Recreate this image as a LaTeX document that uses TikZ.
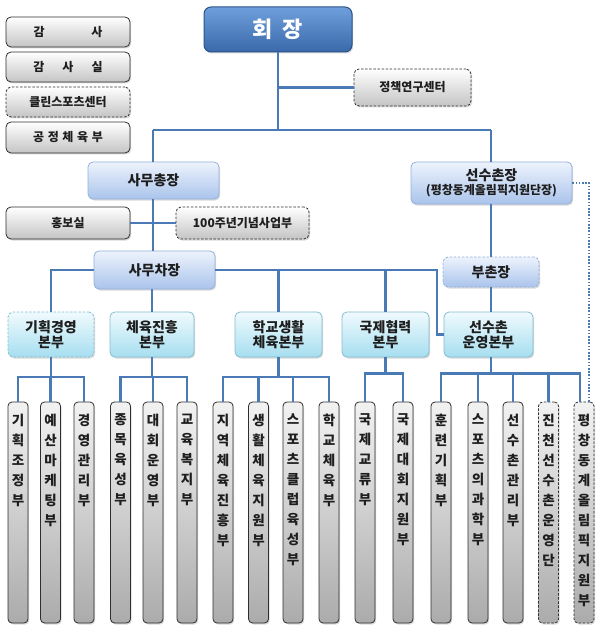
\documentclass[tikz,border=0pt]{standalone}
\usepackage{fontspec}
\setmainfont{Noto Sans CJK KR}
\usetikzlibrary{shadows}
\definecolor{linec}{HTML}{4A7AB5}
\definecolor{txt}{HTML}{1E1E1E}
\definecolor{hoetop}{HTML}{6F9FDB}
\definecolor{hoebot}{HTML}{3A69AB}
\definecolor{hoeb}{HTML}{2B5287}
\definecolor{lbtop}{HTML}{EDF3FC}
\definecolor{lbbot}{HTML}{AAC4EC}
\definecolor{lbb}{HTML}{93B0DC}
\definecolor{cytop}{HTML}{F0FAFD}
\definecolor{cybot}{HTML}{A6DEF0}
\definecolor{cyb}{HTML}{86BCD0}
\definecolor{grtop}{HTML}{FFFFFF}
\definecolor{grbot}{HTML}{C4C4C4}
\definecolor{grb}{HTML}{2E2E2E}
\definecolor{coltop}{HTML}{F2F2F2}
\definecolor{colbot}{HTML}{ABABAB}
\newcommand\coltext[1]{\parbox[c][197pt][t]{18pt}{\centering\fontsize{13.5}{20}\selectfont #1}}
\begin{document}
\begin{tikzpicture}[x=1pt,y=-1pt,
  base/.style={rounded corners=5pt, inner sep=0pt, font=\bfseries, text=txt, align=center,
    drop shadow={opacity=0.3,shadow xshift=1.2pt,shadow yshift=-1.5pt}},
  dashbox/.style={dash pattern=on 2.5pt off 1.6pt},
  graybox/.style={base, draw=grb, line width=0.8pt, top color=grtop, bottom color=grbot,
    font=\bfseries\fontsize{12}{14}\selectfont},
  hoebox/.style={base, rounded corners=7pt, draw=hoeb, line width=1pt, top color=hoetop, bottom color=hoebot,
    text=white, font=\bfseries\fontsize{22}{24}\selectfont},
  lbbox/.style={base, draw=lbb, line width=0.8pt, top color=lbtop, bottom color=lbbot,
    font=\bfseries\fontsize{14}{15}\selectfont},
  cybox/.style={base, draw=cyb, line width=0.8pt, top color=cytop, bottom color=cybot,
    font=\bfseries\fontsize{14}{15}\selectfont},
  colbox/.style={base, rounded corners=4pt, draw=grb, line width=0.8pt, top color=coltop, bottom color=colbot,
    minimum width=20pt, minimum height=221pt},
  conn/.style={draw=linec, line width=2.6pt},
  dotconn/.style={draw=linec, line width=2pt, dash pattern=on 1.6pt off 1.6pt}
]
\useasboundingbox (0,0) rectangle (600,631);

% connectors first (beneath boxes)
\coordinate (j1) at (278,130);
\coordinate (jL) at (153,130);
\coordinate (jR) at (491,130);
\coordinate (bend) at (437,270);
\coordinate (busA) at (0,377);
\coordinate (busB) at (0,373.5);
\coordinate (pcdot) at (589,402);

% top-left boxes
\node[graybox, minimum width=124pt, minimum height=30pt] (gamsa) at (68,32) {감\hspace{3.9em}사};
\node[graybox, minimum width=124pt, minimum height=30pt] (gamsasil) at (68,67) {감\hspace{1.5em}사\hspace{1.5em}실};
\node[graybox, dashbox, minimum width=124pt, minimum height=30pt] (clean) at (68,102) {클린스포츠센터};
\node[graybox, minimum width=124pt, minimum height=31pt] (gongjeong) at (68,137.5) {공\hspace{0.3em}정\hspace{0.3em}체\hspace{0.3em}육\hspace{0.3em}부};

% main nodes
\node[hoebox, minimum width=148pt, minimum height=45pt] (hoe) at (278,29.5) {회\hspace{0.45em}장};
\node[graybox, dashbox, minimum width=117pt, minimum height=37pt] (jeong) at (412.5,87.5) {정책연구센터};
\node[lbbox, minimum width=131pt, minimum height=37pt] (samu) at (153.5,180.5) {사무총장};
\node[graybox, minimum width=124pt, minimum height=32pt] (hong) at (68,223) {홍보실};
\node[graybox, dashbox, minimum width=133pt, minimum height=32pt] (baek) at (242.5,223) {100주년기념사업부};
\node[lbbox, minimum width=121pt, minimum height=38pt] (cha) at (154.5,270) {사무차장};
\node[lbbox, minimum width=161pt, minimum height=42pt] (seonsu) at (491.5,183)
  {선수촌장\\[-1pt]{\fontsize{12}{13}\selectfont(평창동계올림픽지원단장)}};
\node[lbbox, dashbox, minimum width=96pt, minimum height=30pt] (buchon) at (491,272) {부촌장};

\node[cybox, dashbox, minimum width=86pt, minimum height=45pt] (gi) at (51,334.5) {기획경영\\본부};
\node[cybox, minimum width=84pt, minimum height=45pt] (che) at (152,334.5) {체육진흥\\본부};
\node[cybox, minimum width=87pt, minimum height=45pt] (hak) at (278.5,334.5) {학교생활\\체육본부};
\node[cybox, minimum width=87pt, minimum height=45pt] (guk) at (385.5,334.5) {국제협력\\본부};
\node[cybox, minimum width=89pt, minimum height=45pt] (un) at (488.5,334.5) {선수촌\\운영본부};

% columns
\node[colbox] (c1) at (18,512.5) {\coltext{기\\획\\조\\정\\부}};
\node[colbox] (c2) at (50.5,512.5) {\coltext{예\\산\\마\\케\\팅\\부}};
\node[colbox] (c3) at (84,512.5) {\coltext{경\\영\\관\\리\\부}};
\node[colbox] (c4) at (120.5,512.5) {\coltext{종\\목\\육\\성\\부}};
\node[colbox] (c5) at (153,512.5) {\coltext{대\\회\\운\\영\\부}};
\node[colbox] (c6) at (187,512.5) {\coltext{교\\육\\복\\지\\부}};
\node[colbox] (c7) at (223,512.5) {\coltext{지\\역\\체\\육\\진\\흥\\부}};
\node[colbox] (c8) at (258.5,512.5) {\coltext{생\\활\\체\\육\\지\\원\\부}};
\node[colbox] (c9) at (293,512.5) {\coltext{스\\포\\츠\\클\\럽\\육\\성\\부}};
\node[colbox] (c10) at (329,512.5) {\coltext{학\\교\\체\\육\\부}};
\node[colbox] (c11) at (365,512.5) {\coltext{국\\제\\교\\류\\부}};
\node[colbox] (c12) at (403,512.5) {\coltext{국\\제\\대\\회\\지\\원\\부}};
\node[colbox] (c13) at (441,512.5) {\coltext{훈\\련\\기\\획\\부}};
\node[colbox] (c14) at (478,512.5) {\coltext{스\\포\\츠\\의\\과\\학\\부}};
\node[colbox] (c15) at (513,512.5) {\coltext{선\\수\\촌\\관\\리\\부}};
\node[colbox, dashbox] (c16) at (548.5,512.5) {\coltext{진\\천\\선\\수\\촌\\운\\영\\단}};
\node[colbox, dashbox] (c17) at (584,512.5) {\coltext{평\\창\\동\\계\\올\\림\\픽\\지\\원\\부}};

% connectors
\begin{scope}[on background layer/.style={}]
\draw[conn] (hoe.south) -- (j1);
\draw[conn] (hoe.south |- jeong.west) -- (jeong.west);
\draw[conn] (jL) -- (jR);
\draw[conn] (jL) -- (samu.north -| jL);
\draw[conn] (samu.south -| jL) -- (cha.north -| jL);
\draw[conn] (hong.east) -- (baek.west);
\draw[conn] (jR) -- (seonsu.north -| jR);
\draw[conn] (seonsu.south -| jR) -- (buchon.north -| jR);
\draw[conn] (buchon.south -| jR) -- (un.north -| jR);
\draw[dotconn] (seonsu.east) -| (pcdot);
\draw[conn] (cha.west) -| (gi.north);
\draw[conn] (cha.east) -- (bend) |- (un.west);
\draw[conn] (cha.south -| che.north) -- (che.north);
\draw[conn] (hak.north) -- (hak.north |- cha.east);
\draw[conn] (guk.north) -- (guk.north |- cha.east);
% group buses
\draw[conn] (gi.south) -- (gi.south |- busA);
\draw[conn] (c1.north) -- (c1.north |- busA) -- (c3.north |- busA) -- (c3.north);
\draw[conn] (c2.north) -- (c2.north |- busA);
\draw[conn] (che.south) -- (che.south |- busA);
\draw[conn] (c4.north) -- (c4.north |- busA) -- (c6.north |- busA) -- (c6.north);
\draw[conn] (c5.north) -- (c5.north |- busA);
\draw[conn] (hak.south) -- (hak.south |- busA);
\draw[conn] (c7.north) -- (c7.north |- busA) -- (c10.north |- busA) -- (c10.north);
\draw[conn] (c8.north) -- (c8.north |- busA);
\draw[conn] (c9.north) -- (c9.north |- busA);
\draw[conn] (guk.south) -- (guk.south |- busB);
\draw[conn] (c11.north) -- (c11.north |- busB) -- (c12.north |- busB) -- (c12.north);
\draw[conn] (un.south -| jR) -- (jR |- busB);
\draw[conn] (c13.north) -- (c13.north |- busB) -- ([xshift=-4pt]c17.north |- busB) -- ([xshift=-4pt]c17.north);
\draw[conn] (c14.north) -- (c14.north |- busB);
\draw[conn] (c15.north) -- (c15.north |- busB);
\draw[conn] (c16.north) -- (c16.north |- busB);
\end{scope}
\end{tikzpicture}
\end{document}
